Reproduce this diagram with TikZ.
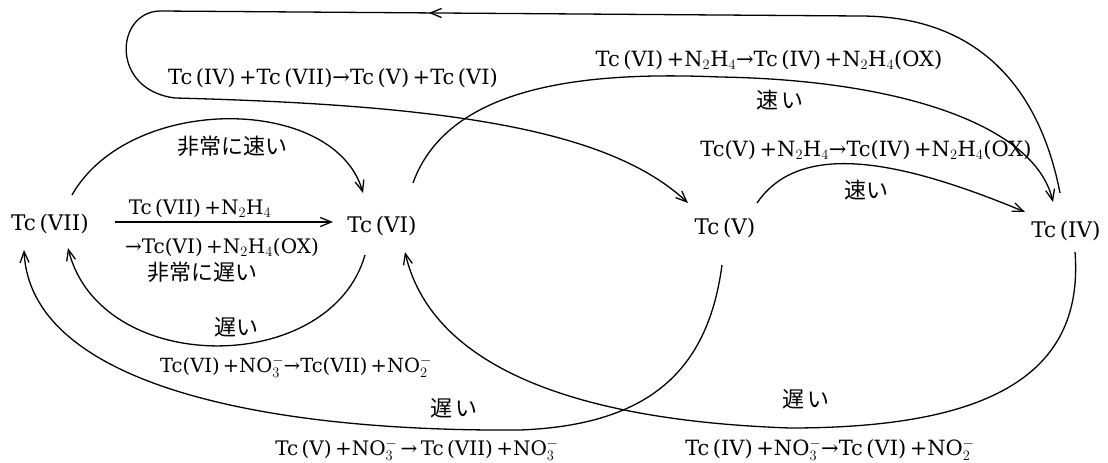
\documentclass[tikz,border=0pt]{standalone}
\usepackage{fontspec}
\setmainfont{DejaVu Serif}
\newfontfamily\jpfont{Noto Sans CJK JP}
\usetikzlibrary{arrows.meta,calc,decorations.markings}

\begin{document}
\begin{tikzpicture}[x=1pt,y=-1pt,
    arr/.style={line width=1.3pt,-{Straight Barb[length=11pt,width=9pt]}},
    state/.style={font=\fontsize{21.5}{24}\selectfont,inner sep=0pt},
    rxn/.style={font=\fontsize{21}{24}\selectfont,inner sep=0pt},
    jp/.style={font=\jpfont\fontsize{22}{24}\selectfont,inner sep=0pt}]
  \useasboundingbox (0,0) rectangle (1108,463);
  \foreach \n/\x/\y/\r in {vii/50/224/VII,vi/382/226/VI,v/725/228/V,iv/1066/231/IV}
    \node[state] (\n) at (\x,\y) {Tc\,(\r)};

  \draw[arr] ($(vii)+(22,-29)$) .. controls (130,93) and (335,95) .. ($(vi)+(-19,-33)$);
  \draw[arr] ($(vii)+(65,-2)$) -- ($(vi)+(-49,-4)$);
  \draw[arr] ($(vi)+(-17,29)$) .. controls (330,377) and (100,377) .. ($(vii)+(18,24)$);
  \draw[arr] ($(v)+(-3,37)$) .. controls (708,370) and (650,425) .. (520,430)
    .. controls (250,432) and (30,380) .. ($(vii)+(-26,26)$);
  \draw[arr] ($(iv)+(9,21)$) .. controls (1085,380) and (980,428) .. (790,428)
    .. controls (560,420) and (430,360) .. ($(vi)+(23,26)$);
  \draw[arr] ($(vi)+(31,-43)$) .. controls (450,80) and (600,72) .. (720,77)
    .. controls (900,80) and (1035,125) .. ($(iv)+(-13,-29)$);
  \draw[arr] ($(v)+(32,-25)$) .. controls (800,140) and (900,160) .. ($(iv)+(-41,-19)$);
  \draw[arr,postaction={decorate},decoration={markings,
      mark=at position 0.437 with {\arrow{Straight Barb[length=11pt,width=9pt]}}}]
    ($(iv)+(-6,-38)$) .. controls (1040,90) and (980,16) .. (860,16) -- (160,11)
    .. controls (115,12) and (110,90) .. (175,98)
    .. controls (450,105) and (610,130) .. ($(v)+(-37,-25)$);

  \node[rxn] (lbl-h) at (333,78) {Tc\,(IV)\,+Tc\,(VII)→Tc\,(V)\,+Tc\,(VI)};
  \node[jp] (lbl-a) at (232,146) {非常に速い};
  \node[rxn,font=\fontsize{20}{24}\selectfont] (lbl-b1) at (200,208) {Tc\,(VII)\,+N$_2$H$_4$};
  \node[rxn,font=\fontsize{20}{24}\selectfont] (lbl-b2) at (222,247) {→Tc(VI)\,+N$_2$H$_4$(OX)};
  \node[jp] (lbl-b3) at (202,272) {非常に遅い};
  \node[jp] (lbl-c1) at (236,327) {遅い};
  \node[rxn,font=\fontsize{19.5}{24}\selectfont] (lbl-c2) at (296,367) {Tc(VI)\,+NO$_3^-$→Tc(VII)\,+NO$_2^-$};
  \node[jp] (lbl-d1) at (454,408) {遅\,い};
  \node[rxn,font=\fontsize{20}{24}\selectfont] (lbl-d2) at (417,450) {Tc\,(V)\,+NO$_3^-$\,→\,Tc\,(VII)\,+NO$_3^-$};
  \node[jp] (lbl-e1) at (806,399) {遅\,い};
  \node[rxn] (lbl-e2) at (830,450) {Tc\,(IV)\,+NO$_3^-$→Tc\,(VI)\,+NO$_2^-$};
  \node[rxn] (lbl-f1) at (769,60) {Tc\,(VI)\,+N$_2$H$_4$→Tc\,(IV)\,+N$_2$H$_4$(OX)};
  \node[jp] (lbl-f2) at (780,100) {速\,い};
  \node[rxn] (lbl-g1) at (866,150) {Tc(V)\,+N$_2$H$_4$→Tc(IV)\,+N$_2$H$_4$(OX)};
  \node[jp] (lbl-g2) at (866,190) {速い};
\end{tikzpicture}
\end{document}
